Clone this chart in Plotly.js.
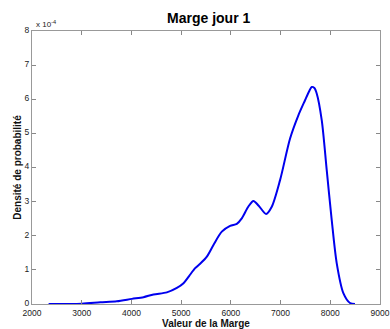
<!DOCTYPE html>
<html>
<head>
<meta charset="utf-8">
<script src="https://cdn.plot.ly/plotly-3.0.1.min.js"></script>
<style>html,body{margin:0;padding:0;background:#fff;}#chart{width:390px;height:329px;}</style>
</head>
<body>
<div id="chart"></div>
<script>
// Marge values (x) and density values in units of 1e-4 (y)
const margeValues = [2334, 3000, 3373, 3706, 4010, 4243, 4444, 4713, 4914, 5047, 5160, 5282, 5382, 5517, 5650, 5818, 5985, 6120, 6220, 6350, 6454, 6560, 6709, 6823, 6990, 7191, 7358, 7492, 7580, 7627, 7680, 7727, 7828, 7928, 8029, 8129, 8263, 8397, 8497];
const densityE4 = [0.0, 0.01, 0.05, 0.08, 0.15, 0.20, 0.28, 0.34, 0.47, 0.61, 0.82, 1.05, 1.18, 1.39, 1.73, 2.12, 2.29, 2.35, 2.51, 2.85, 3.02, 2.88, 2.64, 2.85, 3.63, 4.85, 5.53, 5.97, 6.25, 6.36, 6.33, 6.17, 5.39, 3.93, 2.46, 1.2, 0.32, 0.03, 0.0];
const xTicks = [2000, 3000, 4000, 5000, 6000, 7000, 8000, 9000];
const yTicks = [0, 1, 2, 3, 4, 5, 6, 7, 8];

const font = 'Liberation Sans, Arial, sans-serif';
const trace = {
  x: margeValues, y: densityE4, type: 'scatter', mode: 'lines',
  line: {color: '#0000ee', width: 2, shape: 'spline', smoothing: 0.8},
  hoverinfo: 'none'
};
const layout = {
  width: 390, height: 329,
  margin: {l: 32, r: 10, t: 31, b: 25},
  paper_bgcolor: '#fff', plot_bgcolor: '#fff',
  showlegend: false,
  title: {text: '<b>Marge jour 1</b>', font: {family: font, size: 14, color: '#000'}, x: 0.535, xanchor: 'center', y: 0.945, yanchor: 'middle'},
  xaxis: {
    range: [2000, 9000], tickvals: xTicks, ticktext: xTicks.map(String),
    ticks: 'inside', ticklen: 4, tickcolor: '#888', linecolor: '#999', linewidth: 1,
    mirror: 'ticks', showline: true, showgrid: false, zeroline: false,
    automargin: false, ticklabeloverflow: 'allow', ticklabelstandoff: 1,
    tickfont: {family: font, size: 8.5, color: '#222'},
    title: {text: '<b>Valeur de la Marge</b>', font: {family: font, size: 10, color: '#111'}, standoff: 1}
  },
  yaxis: {
    range: [0, 8], tickvals: yTicks, ticktext: yTicks.map(String),
    ticks: 'inside', ticklen: 4, tickcolor: '#888', linecolor: '#999', linewidth: 1,
    mirror: 'ticks', showline: true, showgrid: false, zeroline: false,
    automargin: false, ticklabelshift: -1,
    tickfont: {family: font, size: 8.5, color: '#222'},
    title: {text: '<b>Densité de probabilité</b>', font: {family: font, size: 10, color: '#111'}, standoff: 1}
  },
  annotations: [{
    xref: 'paper', yref: 'paper', x: 0.005, y: 1.0, xanchor: 'left', yanchor: 'bottom',
    text: 'x 10<sup>-4</sup>', showarrow: false, font: {family: font, size: 8, color: '#222'}
  }]
};
Plotly.newPlot('chart', [trace], layout, {staticPlot: true, displayModeBar: false});
</script>
</body>
</html>
